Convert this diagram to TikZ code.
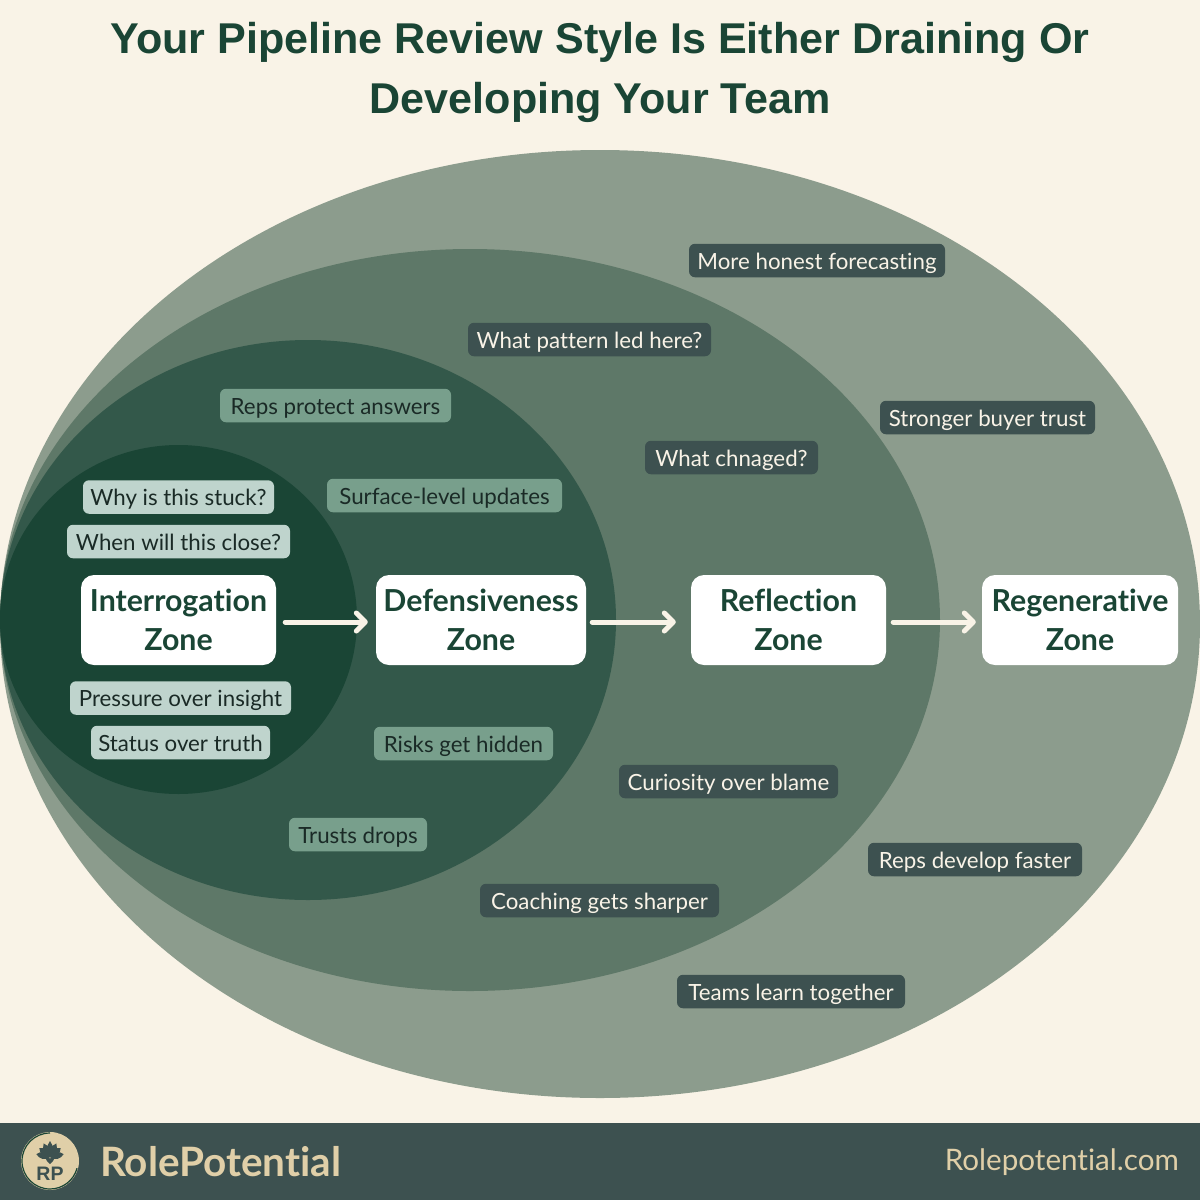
\documentclass[tikz,border=0pt]{standalone}
\usepackage{fontspec}
\setmainfont[Ligatures=NoCommon]{Lato}
\newfontfamily\titlefont{Liberation Sans}
\usetikzlibrary{arrows.meta}
\definecolor{bgc}{HTML}{F9F3E7}
\definecolor{ringa}{HTML}{8C9C8D}
\definecolor{ringb}{HTML}{5E7868}
\definecolor{ringc}{HTML}{33584A}
\definecolor{ringd}{HTML}{1A4535}
\definecolor{slate}{HTML}{3D5150}
\definecolor{midp}{HTML}{789F8C}
\definecolor{lightp}{HTML}{BFD4CD}
\definecolor{tan}{HTML}{E0CFA8}
\definecolor{ink}{HTML}{1A2A26}
\tikzset{
  x=1pt,y=-1pt,
  pill/.style={rounded corners=6pt,inner sep=0pt,minimum height=33.5pt,font=\fontsize{22.3}{26}\selectfont,text depth=0pt,text height=17pt},
  darkpill/.style={pill,fill=slate,text=bgc},
  midpill/.style={pill,fill=midp,text=ink},
  lightpill/.style={pill,fill=lightp,text=ink},
  zonebox/.style={fill=white,rounded corners=13pt,minimum height=90pt,inner sep=0pt,align=center,text=ringd,font=\fontsize{30.3}{39}\selectfont\bfseries},
  flow/.style={draw=bgc,line width=5pt,line cap=round,-{Straight Barb[length=9pt,width=18pt,line cap=round,line join=round]}},
}
\begin{document}
\begin{tikzpicture}
\useasboundingbox (0,0) rectangle (1200,1200);
\fill[bgc] (0,0) rectangle (1200,1200);
\node[text=ringd,align=center,font=\fontsize{43.1}{60}\selectfont\titlefont\bfseries] (title) at (600,72) {Your Pipeline Review Style Is Either Draining Or\\Developing Your Team};
\fill[ringa] (600,624) ellipse [x radius=600,y radius=474];
\fill[ringb] (470,620) ellipse [x radius=470,y radius=371];
\fill[ringc] (308,620) ellipse [x radius=308,y radius=280];
\fill[ringd] (178.5,619.5) ellipse [x radius=178.5,y radius=174.5];
\node[zonebox,minimum width=195pt] (z1) at (178.5,620) {Interrogation\\Zone};
\node[zonebox,minimum width=210pt] (z2) at (481,620) {Defensiveness\\Zone};
\node[zonebox,minimum width=195pt] (z3) at (788.5,620) {Reflection\\Zone};
\node[zonebox,minimum width=196pt] (z4) at (1080,620) {Regenerative\\Zone};
\draw[flow,shorten <=9pt,shorten >=8pt] ([yshift=-2pt]z1.east) -- ([yshift=-2pt]z2.west);
\draw[flow,shorten <=6pt,shorten >=15pt] ([yshift=-2pt]z2.east) -- ([yshift=-2pt]z3.west);
\draw[flow,shorten <=7pt,shorten >=6pt] ([yshift=-2pt]z3.east) -- ([yshift=-2pt]z4.west);
\node[darkpill,minimum width=256pt] (p1) at (817,260.5) {More honest forecasting};
\node[darkpill,minimum width=243pt] (p2) at (589.5,339.5) {What pattern led here?};
\node[darkpill,minimum width=215pt] (p3) at (987.5,417.5) {Stronger buyer trust};
\node[darkpill,minimum width=173pt] (p4) at (731.5,457.5) {What chnaged?};
\node[midpill,minimum width=231pt] (p5) at (335.5,405.5) {Reps protect answers};
\node[midpill,minimum width=235pt] (p6) at (444.5,495.5) {Surface-level updates};
\node[lightpill,minimum width=191pt] (p7) at (178.5,497) {Why is this stuck?};
\node[lightpill,minimum width=223pt] (p8) at (178.5,541.5) {When will this close?};
\node[lightpill,minimum width=221pt] (p9) at (180.5,698) {Pressure over insight};
\node[lightpill,minimum width=179pt] (p10) at (180.5,742.5) {Status over truth};
\node[midpill,minimum width=179pt] (p11) at (463.5,743.5) {Risks get hidden};
\node[darkpill,minimum width=219pt] (p12) at (728.5,781.5) {Curiosity over blame};
\node[midpill,minimum width=138pt] (p13) at (358,834.5) {Trusts drops};
\node[darkpill,minimum width=239pt] (p14) at (599.5,900.5) {Coaching gets sharper};
\node[darkpill,minimum width=214pt] (p15) at (975,859.5) {Reps develop faster};
\node[darkpill,minimum width=228pt] (p16) at (791,991.5) {Teams learn together};
\fill[slate] (0,1123) rectangle (1200,1200);
\fill[tan] (50,1161) circle [radius=29];
\draw[ringd,line width=1.2pt] (50,1133) arc [start angle=-90,end angle=-345,radius=28];
\foreach \a/\l in {-78/14,-50/14,-25/15,0/16,25/15,50/14,78/14}{
  \fill[slate,rotate around={\a:(50,1157)}] (50,1157) .. controls (45,1152) and (46,1147) .. (50,{1157-\l}) .. controls (54,1147) and (55,1152) .. (50,1157) -- cycle;
}
\fill[slate] (50,1164) .. controls (45,1160) and (45,1157) .. (47.5,1157) .. controls (49,1157) and (50,1158) .. (50,1159) .. controls (50,1158) and (51,1157) .. (52.5,1157) .. controls (55,1157) and (55,1160) .. (50,1164) -- cycle;
\node[text=slate,font=\fontsize{19.5}{20}\selectfont\titlefont\bfseries] (rp) at (50,1173.5) {RP};
\node[anchor=west,text=tan,inner sep=0pt,font=\fontsize{40.5}{42}\selectfont\bfseries] (brand) at (100,1162) {RolePotential};
\node[anchor=east,text=tan,inner sep=0pt,font=\fontsize{29.6}{32}\selectfont] (url) at (1179,1162) {Rolepotential.com};
\end{tikzpicture}
\end{document}
